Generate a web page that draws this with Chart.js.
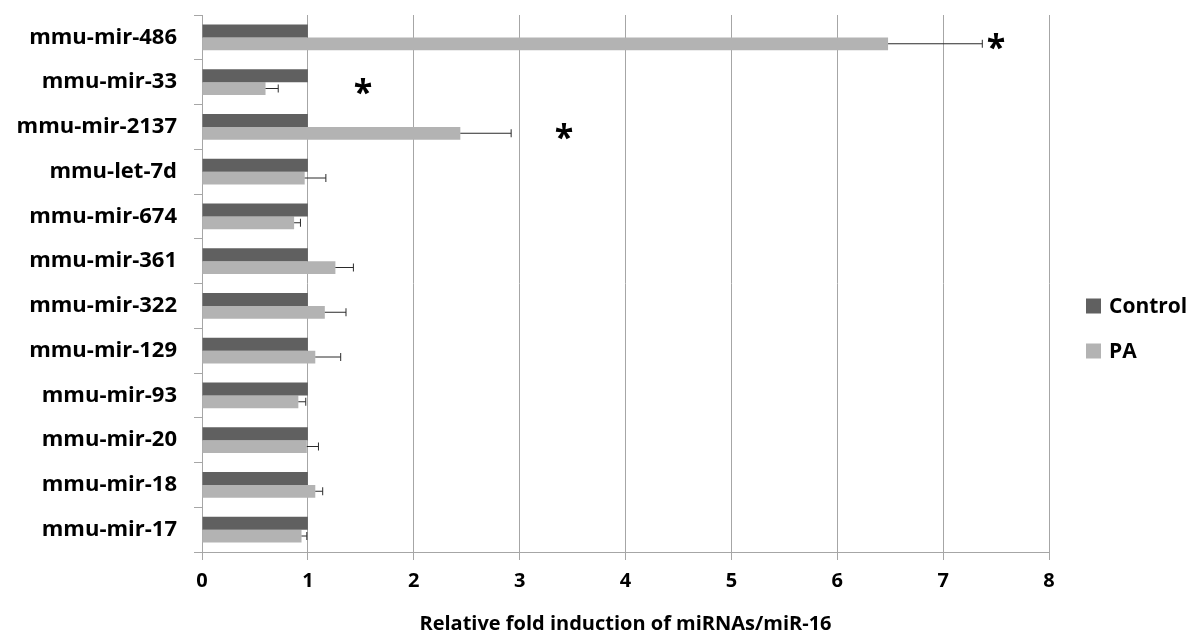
<!DOCTYPE html>
<html>
<head>
<meta charset="utf-8">
<script src="https://cdn.jsdelivr.net/npm/chart.js@4/dist/chart.umd.min.js"></script>
<style>
  body { margin: 0; background: #fff; }
  #wrap { width: 1192px; height: 637px; }
</style>
</head>
<body>
<div id="wrap"><canvas id="chart" width="1192" height="637"></canvas></div>
<script>
// data, top to bottom
const categories = ['mmu-mir-486', 'mmu-mir-33', 'mmu-mir-2137', 'mmu-let-7d', 'mmu-mir-674', 'mmu-mir-361',
    'mmu-mir-322', 'mmu-mir-129', 'mmu-mir-93', 'mmu-mir-20', 'mmu-mir-18', 'mmu-mir-17'];
const controlValues = [1, 1, 1, 1, 1, 1, 1, 1, 1, 1, 1, 1];
const paValues = [6.48, 0.60, 2.44, 0.97, 0.87, 1.26, 1.16, 1.07, 0.91, 0.99, 1.07, 0.94];
const paErrors = [0.89, 0.12, 0.48, 0.20, 0.06, 0.17, 0.20, 0.24, 0.07, 0.11, 0.07, 0.05];
const xTicks = [0, 1, 2, 3, 4, 5, 6, 7, 8];
// significance marks: category index and x value where the star sits
const starCategory = [0, 1, 2];
const starX = [7.5, 1.52, 3.42];

const fontFamily = '"Open Sans", sans-serif';

// one-sided error bars, stars and the legend on the right
const extrasPlugin = {
    id: 'extras',
    afterDatasetsDraw(chart) {
        const ctx = chart.ctx;
        const xs = chart.scales.x;
        const meta = chart.getDatasetMeta(1);
        ctx.save();
        ctx.strokeStyle = '#2b2b2b';
        ctx.lineWidth = 1;
        paValues.forEach((v, i) => {
            const y = meta.data[i].y;
            const x1 = xs.getPixelForValue(v);
            const x2 = xs.getPixelForValue(v + paErrors[i]);
            ctx.beginPath();
            ctx.moveTo(x1, y);
            ctx.lineTo(x2, y);
            ctx.moveTo(x2, y - 4);
            ctx.lineTo(x2, y + 4);
            ctx.stroke();
        });
        ctx.fillStyle = '#000';
        ctx.font = 'bold 34px ' + fontFamily;
        ctx.textAlign = 'center';
        ctx.textBaseline = 'middle';
        starCategory.forEach((c, i) => {
            const y = chart.scales.y.getPixelForValue(c) + 12;
            ctx.fillText('*', xs.getPixelForValue(starX[i]), y);
        });

        // legend
        const ys = chart.scales.y;
        const midY = (ys.top + ys.bottom) / 2;
        ctx.font = 'bold 21px ' + fontFamily;
        ctx.textAlign = 'left';
        chart.data.datasets.forEach((ds, i) => {
            const cy = midY + 22.5 + i * 45;
            ctx.fillStyle = ds.backgroundColor;
            ctx.fillRect(chart.chartArea.right + 37, cy - 7.5, 15, 15);
            ctx.fillStyle = '#000';
            ctx.fillText(ds.label, chart.chartArea.right + 60, cy + 1);
        });
        ctx.restore();
    }
};

const ctx = document.getElementById('chart').getContext('2d');
new Chart(ctx, {
    type: 'bar',
    data: {
        labels: categories,
        datasets: [
            { label: 'Control', data: controlValues, backgroundColor: '#606060' },
            { label: 'PA', data: paValues, backgroundColor: '#b3b3b3' }
        ]
    },
    options: {
        indexAxis: 'y',
        responsive: false,
        animation: false,
        categoryPercentage: 0.57,
        barPercentage: 1.0,
        layout: { padding: { top: 15, right: 143, left: 0, bottom: 1 } },
        scales: {
            x: {
                min: 0,
                max: 8,
                afterBuildTicks(axis) { axis.ticks = xTicks.map(v => ({ value: v })); },
                afterFit(axis) { axis.paddingLeft = 0; axis.paddingRight = 0; },
                grid: { color: '#a6a6a6', tickLength: 8 },
                border: { color: '#a6a6a6' },
                ticks: { color: '#000', font: { family: fontFamily, size: 20, weight: 'bold' }, padding: 9 },
                title: {
                    display: true,
                    text: 'Relative fold induction of miRNAs/miR-16',
                    color: '#000',
                    font: { family: fontFamily, size: 20, weight: 'bold' },
                    padding: { top: 10, bottom: 0 }
                }
            },
            y: {
                afterFit(axis) { axis.width = 202; axis.paddingTop = 0; axis.paddingBottom = 0; },
                grid: { offset: true, drawOnChartArea: false, color: '#a6a6a6', tickLength: 8 },
                border: { color: '#a6a6a6' },
                ticks: { color: '#000', font: { family: fontFamily, size: 22, weight: 'bold' }, padding: 17 }
            }
        },
        plugins: {
            legend: { display: false },
            tooltip: { enabled: false }
        }
    },
    plugins: [extrasPlugin]
});
</script>
</body>
</html>
